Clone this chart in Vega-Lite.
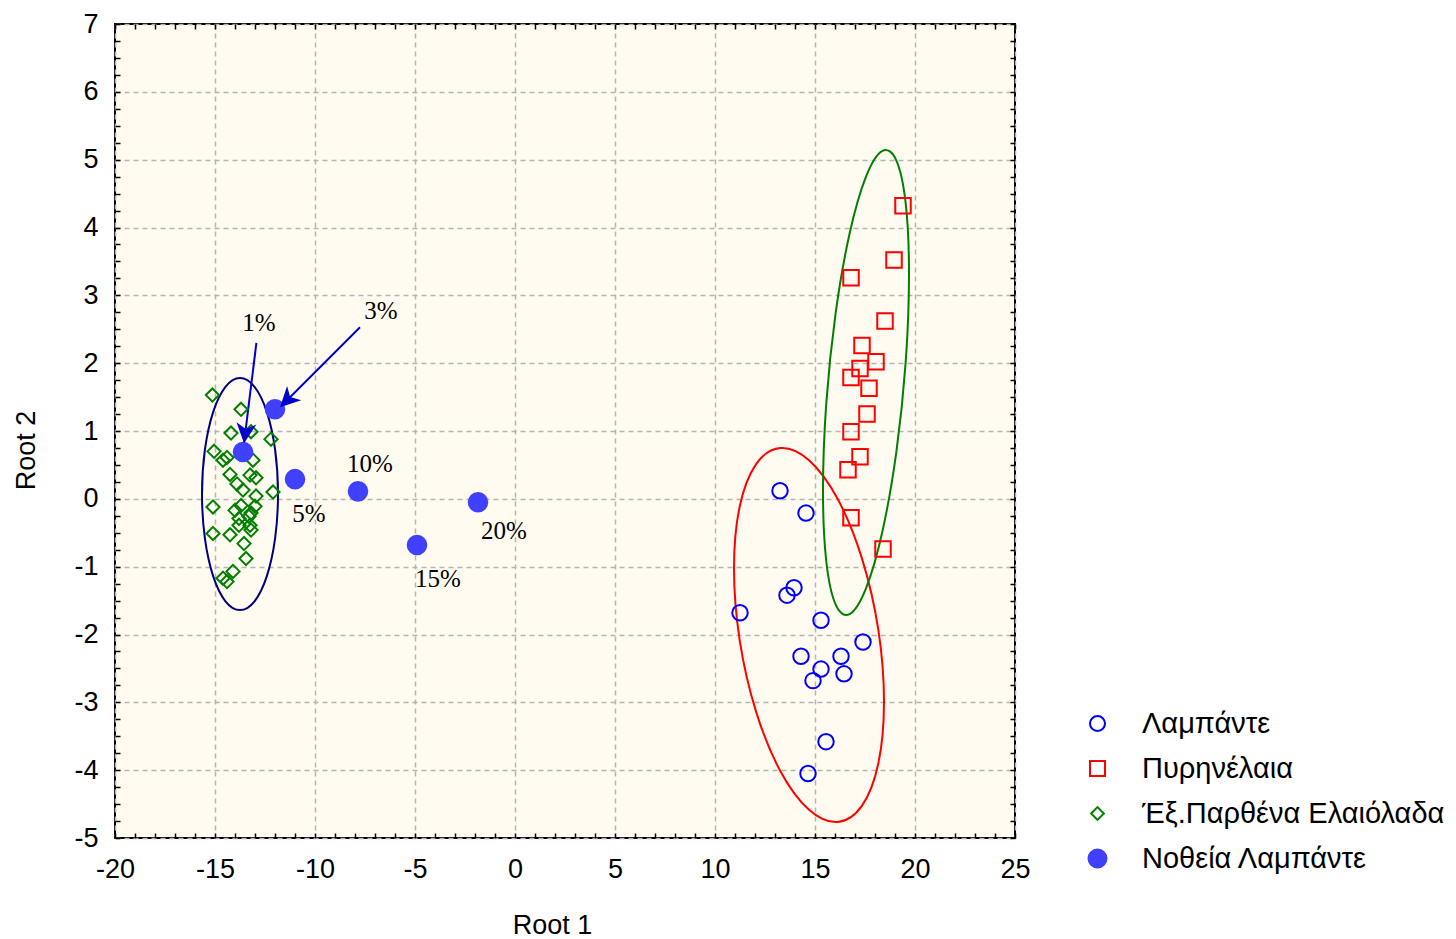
{
  "$schema": "https://vega.github.io/schema/vega-lite/v6.json",
  "width": 900,
  "height": 814,
  "autosize": {"type": "none"},
  "padding": {"left": 115, "top": 24, "right": 441, "bottom": 101},
  "background": "white",
  "config": {
    "view": {"stroke": "black", "strokeWidth": 2, "fill": "#FFFBF0"},
    "axis": {
      "domain": false,
      "labelFont": "Liberation Sans",
      "labelFontSize": 27,
      "labelColor": "black",
      "titleFont": "Liberation Sans",
      "titleFontSize": 27,
      "titleFontWeight": "normal",
      "titleColor": "black",
      "tickColor": "black",
      "gridColor": "#b4b4b4",
      "gridDash": [5, 4],
      "gridWidth": 1.5
    },
    "legend": {
      "orient": "none",
      "legendX": 968,
      "legendY": 685,
      "padding": 0,
      "labelFont": "Liberation Sans",
      "labelFontSize": 29,
      "labelColor": "black",
      "labelLimit": 0,
      "labelOffset": 30,
      "rowPadding": 15,
      "symbolSize": 225,
      "symbolStrokeWidth": 2
    }
  },
  "datasets": {
    "pts": [
      {"g": "Λαμπάντε", "x": 13.25, "y": 0.12},
      {"g": "Λαμπάντε", "x": 14.55, "y": -0.21},
      {"g": "Λαμπάντε", "x": 13.95, "y": -1.31},
      {"g": "Λαμπάντε", "x": 13.6, "y": -1.42},
      {"g": "Λαμπάντε", "x": 11.25, "y": -1.68},
      {"g": "Λαμπάντε", "x": 15.3, "y": -1.79},
      {"g": "Λαμπάντε", "x": 17.4, "y": -2.11},
      {"g": "Λαμπάντε", "x": 14.3, "y": -2.32},
      {"g": "Λαμπάντε", "x": 16.3, "y": -2.32},
      {"g": "Λαμπάντε", "x": 15.3, "y": -2.51},
      {"g": "Λαμπάντε", "x": 16.45, "y": -2.58},
      {"g": "Λαμπάντε", "x": 14.9, "y": -2.68},
      {"g": "Λαμπάντε", "x": 15.55, "y": -3.58},
      {"g": "Λαμπάντε", "x": 14.65, "y": -4.05},
      {"g": "Πυρηνέλαια", "x": 19.4, "y": 4.32},
      {"g": "Πυρηνέλαια", "x": 18.95, "y": 3.52},
      {"g": "Πυρηνέλαια", "x": 16.8, "y": 3.26},
      {"g": "Πυρηνέλαια", "x": 18.5, "y": 2.62},
      {"g": "Πυρηνέλαια", "x": 17.35, "y": 2.26},
      {"g": "Πυρηνέλαια", "x": 18.05, "y": 2.02},
      {"g": "Πυρηνέλαια", "x": 17.25, "y": 1.92},
      {"g": "Πυρηνέλαια", "x": 16.8, "y": 1.79},
      {"g": "Πυρηνέλαια", "x": 17.7, "y": 1.63},
      {"g": "Πυρηνέλαια", "x": 17.6, "y": 1.25},
      {"g": "Πυρηνέλαια", "x": 16.8, "y": 0.99},
      {"g": "Πυρηνέλαια", "x": 17.25, "y": 0.62},
      {"g": "Πυρηνέλαια", "x": 16.65, "y": 0.43},
      {"g": "Πυρηνέλαια", "x": 16.8, "y": -0.28},
      {"g": "Πυρηνέλαια", "x": 18.4, "y": -0.74},
      {"g": "Έξ.Παρθένα Ελαιόλαδα", "x": -15.13, "y": 1.53},
      {"g": "Έξ.Παρθένα Ελαιόλαδα", "x": -13.7, "y": 1.32},
      {"g": "Έξ.Παρθένα Ελαιόλαδα", "x": -14.2, "y": 0.97},
      {"g": "Έξ.Παρθένα Ελαιόλαδα", "x": -15.05, "y": 0.7},
      {"g": "Έξ.Παρθένα Ελαιόλαδα", "x": -14.4, "y": 0.61},
      {"g": "Έξ.Παρθένα Ελαιόλαδα", "x": -14.6, "y": 0.57},
      {"g": "Έξ.Παρθένα Ελαιόλαδα", "x": -13.2, "y": 0.99},
      {"g": "Έξ.Παρθένα Ελαιόλαδα", "x": -12.2, "y": 0.88},
      {"g": "Έξ.Παρθένα Ελαιόλαδα", "x": -13.1, "y": 0.57},
      {"g": "Έξ.Παρθένα Ελαιόλαδα", "x": -14.25, "y": 0.36},
      {"g": "Έξ.Παρθένα Ελαιόλαδα", "x": -13.25, "y": 0.35},
      {"g": "Έξ.Παρθένα Ελαιόλαδα", "x": -12.95, "y": 0.31},
      {"g": "Έξ.Παρθένα Ελαιόλαδα", "x": -13.9, "y": 0.22},
      {"g": "Έξ.Παρθένα Ελαιόλαδα", "x": -13.6, "y": 0.13},
      {"g": "Έξ.Παρθένα Ελαιόλαδα", "x": -12.1, "y": 0.1},
      {"g": "Έξ.Παρθένα Ελαιόλαδα", "x": -12.95, "y": 0.04},
      {"g": "Έξ.Παρθένα Ελαιόλαδα", "x": -15.1, "y": -0.12},
      {"g": "Έξ.Παρθένα Ελαιόλαδα", "x": -14.0, "y": -0.17},
      {"g": "Έξ.Παρθένα Ελαιόλαδα", "x": -13.7, "y": -0.1},
      {"g": "Έξ.Παρθένα Ελαιόλαδα", "x": -13.0, "y": -0.11},
      {"g": "Έξ.Παρθένα Ελαιόλαδα", "x": -13.2, "y": -0.21},
      {"g": "Έξ.Παρθένα Ελαιόλαδα", "x": -13.8, "y": -0.29},
      {"g": "Έξ.Παρθένα Ελαιόλαδα", "x": -13.3, "y": -0.26},
      {"g": "Έξ.Παρθένα Ελαιόλαδα", "x": -13.8, "y": -0.39},
      {"g": "Έξ.Παρθένα Ελαιόλαδα", "x": -13.25, "y": -0.39},
      {"g": "Έξ.Παρθένα Ελαιόλαδα", "x": -13.2, "y": -0.46},
      {"g": "Έξ.Παρθένα Ελαιόλαδα", "x": -15.1, "y": -0.51},
      {"g": "Έξ.Παρθένα Ελαιόλαδα", "x": -14.25, "y": -0.53},
      {"g": "Έξ.Παρθένα Ελαιόλαδα", "x": -13.55, "y": -0.66},
      {"g": "Έξ.Παρθένα Ελαιόλαδα", "x": -13.45, "y": -0.88},
      {"g": "Έξ.Παρθένα Ελαιόλαδα", "x": -14.1, "y": -1.07},
      {"g": "Έξ.Παρθένα Ελαιόλαδα", "x": -14.6, "y": -1.17},
      {"g": "Έξ.Παρθένα Ελαιόλαδα", "x": -14.4, "y": -1.22},
      {"g": "Νοθεία Λαμπάντε", "x": -13.6, "y": 0.69},
      {"g": "Νοθεία Λαμπάντε", "x": -12.0, "y": 1.32},
      {"g": "Νοθεία Λαμπάντε", "x": -11.0, "y": 0.29},
      {"g": "Νοθεία Λαμπάντε", "x": -7.85, "y": 0.11},
      {"g": "Νοθεία Λαμπάντε", "x": -4.9, "y": -0.68},
      {"g": "Νοθεία Λαμπάντε", "x": -1.85, "y": -0.05}
    ],
    "ell1": [
      {"o": 0, "x": -11.85, "y": 0.07},
      {"o": 1, "x": -11.995, "y": 0.724},
      {"o": 2, "x": -12.407, "y": 1.279},
      {"o": 3, "x": -13.023, "y": 1.65},
      {"o": 4, "x": -13.75, "y": 1.78},
      {"o": 5, "x": -14.477, "y": 1.65},
      {"o": 6, "x": -15.093, "y": 1.279},
      {"o": 7, "x": -15.505, "y": 0.724},
      {"o": 8, "x": -15.65, "y": 0.07},
      {"o": 9, "x": -15.505, "y": -0.584},
      {"o": 10, "x": -15.093, "y": -1.139},
      {"o": 11, "x": -14.477, "y": -1.51},
      {"o": 12, "x": -13.75, "y": -1.64},
      {"o": 13, "x": -13.023, "y": -1.51},
      {"o": 14, "x": -12.407, "y": -1.139},
      {"o": 15, "x": -11.995, "y": -0.584}
    ],
    "ell2": [
      {"o": 0, "x": 18.45, "y": -2.99},
      {"o": 1, "x": 18.165, "y": -3.902},
      {"o": 2, "x": 17.351, "y": -4.523},
      {"o": 3, "x": 16.136, "y": -4.763},
      {"o": 4, "x": 14.7, "y": -4.583},
      {"o": 5, "x": 13.264, "y": -4.011},
      {"o": 6, "x": 12.049, "y": -3.133},
      {"o": 7, "x": 11.235, "y": -2.086},
      {"o": 8, "x": 10.95, "y": -1.024},
      {"o": 9, "x": 11.235, "y": -0.112},
      {"o": 10, "x": 12.049, "y": 0.509},
      {"o": 11, "x": 13.264, "y": 0.749},
      {"o": 12, "x": 14.7, "y": 0.569},
      {"o": 13, "x": 16.136, "y": -0.003},
      {"o": 14, "x": 17.351, "y": -0.881},
      {"o": 15, "x": 18.165, "y": -1.928}
    ],
    "ell3": [
      {"o": 0, "x": 19.7, "y": 3.309},
      {"o": 1, "x": 19.537, "y": 2.026},
      {"o": 2, "x": 19.07, "y": 0.697},
      {"o": 3, "x": 18.373, "y": -0.477},
      {"o": 4, "x": 17.55, "y": -1.319},
      {"o": 5, "x": 16.727, "y": -1.699},
      {"o": 6, "x": 16.03, "y": -1.557},
      {"o": 7, "x": 15.563, "y": -0.92},
      {"o": 8, "x": 15.4, "y": 0.121},
      {"o": 9, "x": 15.563, "y": 1.404},
      {"o": 10, "x": 16.03, "y": 2.733},
      {"o": 11, "x": 16.727, "y": 3.907},
      {"o": 12, "x": 17.55, "y": 4.749},
      {"o": 13, "x": 18.373, "y": 5.129},
      {"o": 14, "x": 19.07, "y": 4.987},
      {"o": 15, "x": 19.537, "y": 4.35}
    ],
    "arrows": [
      {"x": -12.93, "y": 2.3, "x2": -13.55, "y2": 0.82, "a": 187},
      {"x": -7.75, "y": 2.53, "x2": -11.75, "y2": 1.35, "a": 225}
    ],
    "labels": [
      {"t": "1%", "x": -12.8, "y": 2.59},
      {"t": "3%", "x": -6.7, "y": 2.77},
      {"t": "5%", "x": -10.3, "y": -0.22},
      {"t": "10%", "x": -7.25, "y": 0.51},
      {"t": "15%", "x": -3.85, "y": -1.18},
      {"t": "20%", "x": -0.55, "y": -0.47}
    ]
  },
  "resolve": {"axis": {"x": "independent", "y": "independent"}},
  "layer": [
    {
      "data": {"name": "ell1"},
      "mark": {"type": "line", "interpolate": "cardinal-closed", "color": "#000080", "strokeWidth": 2},
      "encoding": {
        "x": {"field": "x", "type": "quantitative", "scale": {"domain": [-20, 25], "nice": false, "zero": false},
          "axis": {"orient": "bottom", "values": [-20,-19,-18,-17,-16,-15,-14,-13,-12,-11,-10,-9,-8,-7,-6,-5,-4,-3,-2,-1,0,1,2,3,4,5,6,7,8,9,10,11,12,13,14,15,16,17,18,19,20,21,22,23,24,25], "labels": false, "grid": false, "ticks": true, "tickSize": -5, "tickWidth": 1.5, "title": null}},
        "y": {"field": "y", "type": "quantitative", "scale": {"domain": [-5, 7], "nice": false, "zero": false},
          "axis": {"orient": "left", "values": [-5,-4.75,-4.5,-4.25,-4,-3.75,-3.5,-3.25,-3,-2.75,-2.5,-2.25,-2,-1.75,-1.5,-1.25,-1,-0.75,-0.5,-0.25,0,0.25,0.5,0.75,1,1.25,1.5,1.75,2,2.25,2.5,2.75,3,3.25,3.5,3.75,4,4.25,4.5,4.75,5,5.25,5.5,5.75,6,6.25,6.5,6.75,7], "labels": false, "grid": false, "ticks": true, "tickSize": -5, "tickWidth": 1.5, "title": null}},
        "order": {"field": "o", "type": "quantitative"}
      }
    },
    {
      "data": {"name": "ell2"},
      "mark": {"type": "line", "interpolate": "cardinal-closed", "color": "#FF0000", "strokeWidth": 2},
      "encoding": {
        "x": {"field": "x", "type": "quantitative", "scale": {"domain": [-20, 25], "nice": false, "zero": false},
          "axis": {"orient": "top", "values": [-20,-19,-18,-17,-16,-15,-14,-13,-12,-11,-10,-9,-8,-7,-6,-5,-4,-3,-2,-1,0,1,2,3,4,5,6,7,8,9,10,11,12,13,14,15,16,17,18,19,20,21,22,23,24,25], "labels": false, "grid": false, "ticks": true, "tickSize": -5, "tickWidth": 1.5, "title": null}},
        "y": {"field": "y", "type": "quantitative", "scale": {"domain": [-5, 7], "nice": false, "zero": false},
          "axis": {"orient": "right", "values": [-5,-4.75,-4.5,-4.25,-4,-3.75,-3.5,-3.25,-3,-2.75,-2.5,-2.25,-2,-1.75,-1.5,-1.25,-1,-0.75,-0.5,-0.25,0,0.25,0.5,0.75,1,1.25,1.5,1.75,2,2.25,2.5,2.75,3,3.25,3.5,3.75,4,4.25,4.5,4.75,5,5.25,5.5,5.75,6,6.25,6.5,6.75,7], "labels": false, "grid": false, "ticks": true, "tickSize": -5, "tickWidth": 1.5, "title": null}},
        "order": {"field": "o", "type": "quantitative"}
      }
    },
    {
      "data": {"name": "ell3"},
      "mark": {"type": "line", "interpolate": "cardinal-closed", "color": "#008000", "strokeWidth": 2},
      "encoding": {
        "x": {"field": "x", "type": "quantitative", "axis": null},
        "y": {"field": "y", "type": "quantitative", "axis": null},
        "order": {"field": "o", "type": "quantitative"}
      }
    },
    {
      "data": {"name": "arrows"},
      "mark": {"type": "rule", "color": "#0000CC", "strokeWidth": 2},
      "encoding": {
        "x": {"field": "x", "type": "quantitative", "axis": null},
        "y": {"field": "y", "type": "quantitative", "axis": null},
        "x2": {"field": "x2"},
        "y2": {"field": "y2"}
      }
    },
    {
      "data": {"name": "pts"},
      "mark": {"type": "point", "size": 240, "strokeWidth": 2, "opacity": 1},
      "encoding": {
        "x": {"field": "x", "type": "quantitative", "scale": {"domain": [-20, 25], "nice": false, "zero": false},
          "axis": {"orient": "bottom", "values": [-20, -15, -10, -5, 0, 5, 10, 15, 20, 25], "labelExpr": "'' + datum.value", "ticks": false, "grid": true, "labelPadding": 18, "title": "Root 1", "titleX": 437, "titleY": 87, "titleBaseline": "middle", "labelFlush": false}},
        "y": {"field": "y", "type": "quantitative", "scale": {"domain": [-5, 7], "nice": false, "zero": false},
          "axis": {"orient": "left", "values": [-5, -4, -3, -2, -1, 0, 1, 2, 3, 4, 5, 6, 7], "labelExpr": "'' + datum.value", "ticks": false, "grid": true, "labelPadding": 17, "title": "Root 2", "titleX": -89, "titleY": 426, "titleAngle": -90, "titleBaseline": "middle", "titleAlign": "center", "labelFlush": false}},
        "shape": {"field": "g", "type": "nominal",
          "scale": {"domain": ["Λαμπάντε", "Πυρηνέλαια", "Έξ.Παρθένα Ελαιόλαδα", "Νοθεία Λαμπάντε"],
            "range": ["circle", "square", "M-0.85,0 L0,-0.85 L0.85,0 L0,0.85 Z", "M1.2,0 A1.2,1.2 0 1,1 -1.2,0 A1.2,1.2 0 1,1 1.2,0 Z"]},
          "legend": {"title": null}},
        "stroke": {"field": "g", "type": "nominal",
          "scale": {"domain": ["Λαμπάντε", "Πυρηνέλαια", "Έξ.Παρθένα Ελαιόλαδα", "Νοθεία Λαμπάντε"],
            "range": ["#0000FF", "#FF0000", "#008000", "#4040FF"]},
          "legend": {"title": null}},
        "fill": {"field": "g", "type": "nominal",
          "scale": {"domain": ["Λαμπάντε", "Πυρηνέλαια", "Έξ.Παρθένα Ελαιόλαδα", "Νοθεία Λαμπάντε"],
            "range": ["transparent", "transparent", "transparent", "#4040FF"]},
          "legend": {"title": null}}
      }
    },
    {
      "data": {"name": "arrows"},
      "mark": {"type": "point", "shape": "M0,0 L-0.5,1 L0,0.72 L0.5,1 Z", "size": 1600, "filled": true, "color": "#0000CC", "opacity": 1, "strokeWidth": 0},
      "encoding": {
        "x": {"field": "x2", "type": "quantitative", "axis": null},
        "y": {"field": "y2", "type": "quantitative", "axis": null},
        "angle": {"field": "a", "type": "quantitative", "scale": null}
      }
    },
    {
      "data": {"name": "labels"},
      "mark": {"type": "text", "font": "Liberation Serif", "fontSize": 25, "color": "black", "align": "center", "baseline": "middle"},
      "encoding": {
        "x": {"field": "x", "type": "quantitative", "axis": null},
        "y": {"field": "y", "type": "quantitative", "axis": null},
        "text": {"field": "t", "type": "nominal"}
      }
    }
  ]
}
